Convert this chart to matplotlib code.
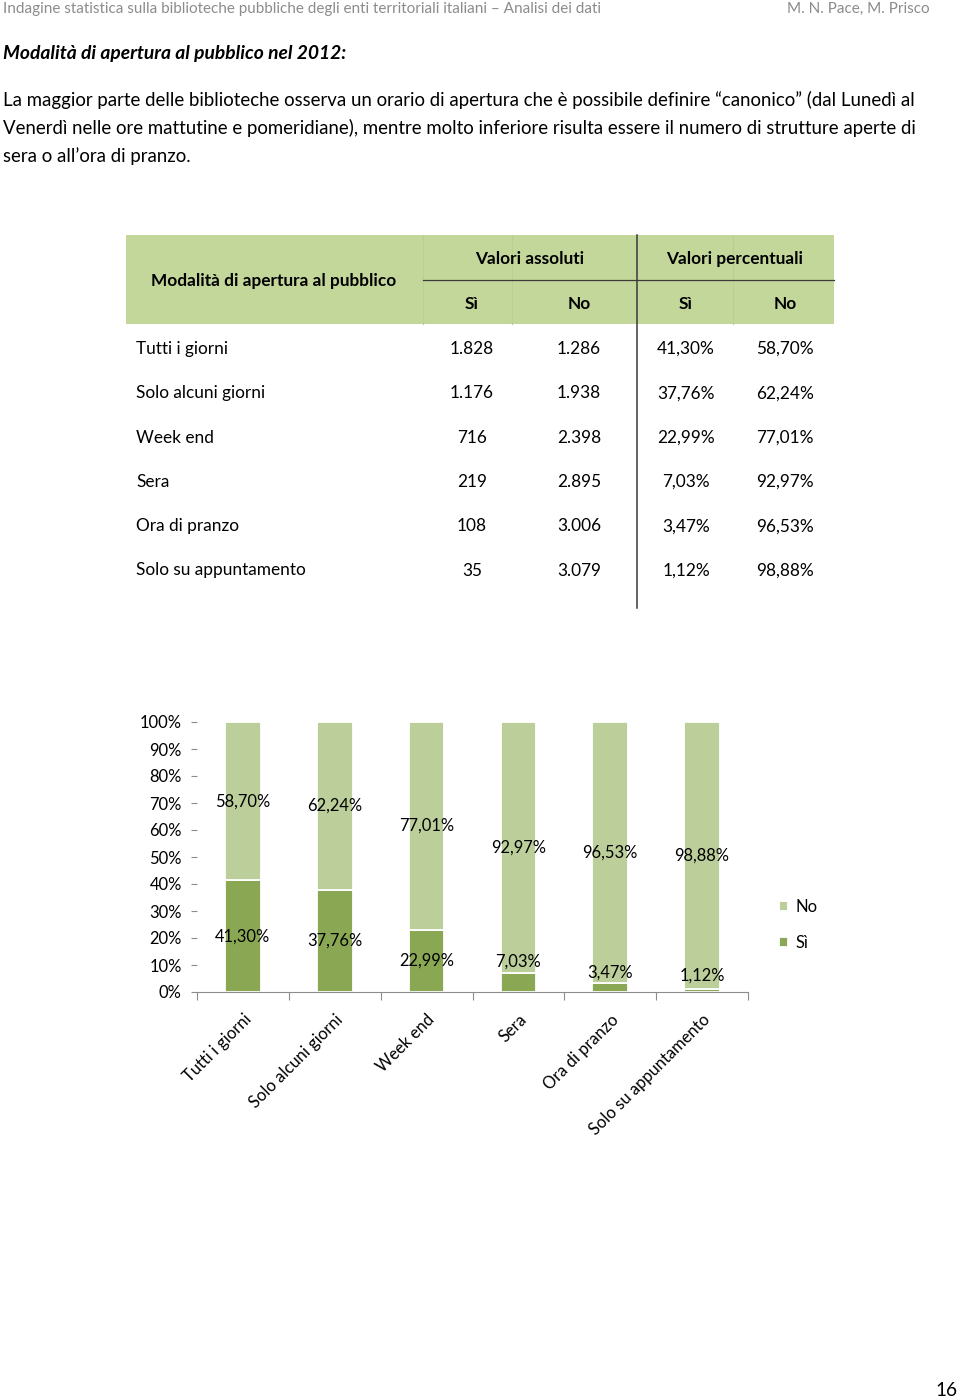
import matplotlib
matplotlib.use("Agg")
import matplotlib.pyplot as plt
from matplotlib.patches import Rectangle
from matplotlib.lines import Line2D
import numpy as np

plt.rcParams['font.family'] = ['Lato', 'DejaVu Sans']

# ---------------- data ----------------
categories = ["Tutti i giorni", "Solo alcuni giorni", "Week end", "Sera",
              "Ora di pranzo", "Solo su appuntamento"]
abs_si = ["1.828", "1.176", "716", "219", "108", "35"]
abs_no = ["1.286", "1.938", "2.398", "2.895", "3.006", "3.079"]
pct_si = [41.30, 37.76, 22.99, 7.03, 3.47, 1.12]
pct_no = [58.70, 62.24, 77.01, 92.97, 96.53, 98.88]
yticks = [0, 10, 20, 30, 40, 50, 60, 70, 80, 90, 100]

header_left = "Indagine statistica sulla biblioteche pubbliche degli enti territoriali italiani – Analisi dei dati"
header_right = "M. N. Pace, M. Prisco"
title = "Modalità di apertura al pubblico nel 2012:"
paragraph = [
    "La maggior parte delle biblioteche osserva un orario di apertura che è possibile definire “canonico” (dal Lunedì al",
    "Venerdì nelle ore mattutine e pomeridiane), mentre molto inferiore risulta essere il numero di strutture aperte di",
    "sera o all’ora di pranzo.",
]
page_number = "16"

# ---------------- layout / style ----------------
W, H = 960, 1398
DARK = "#8aa853"
LIGHT = "#bccf9a"
HEAD_BG = "#c4d79b"
fig = plt.figure(figsize=(W / 100, H / 100), dpi=100)


def fx(x):
    return x / W


def fy(y):
    return 1 - y / H


def ftext(x, y, s, **kw):
    kw.setdefault("va", "center")
    kw.setdefault("color", "black")
    fig.text(fx(x), fy(y), s, **kw)


PX = 0.72  # points per pixel

# header
ftext(3, 9, header_left, fontsize=15.2 * PX, color="#8c8c8c")
ftext(930, 9, header_right, fontsize=15.2 * PX, color="#8c8c8c", ha="right")
ftext(3, 53, title, fontsize=19.3 * PX, fontweight="bold", fontstyle="italic")
for i, line in enumerate(paragraph):
    ftext(3, 100 + 28 * i, line, fontsize=18.6 * PX)
ftext(958, 1390, page_number, fontsize=19 * PX, ha="right")

# table
fig.patches.append(Rectangle((fx(126), fy(324)), fx(834 - 126), (324 - 235) / H,
                             transform=fig.transFigure, facecolor=HEAD_BG,
                             edgecolor="none", zorder=0))
for xl in (423, 512, 733):
    fig.lines.append(Line2D([fx(xl), fx(xl)], [fy(235), fy(324)],
                            transform=fig.transFigure, color="#bad08f", lw=0.8))
fig.lines.append(Line2D([fx(423), fx(834)], [fy(280), fy(280)],
                        transform=fig.transFigure, color="#3a3a3a", lw=0.9))
fig.lines.append(Line2D([fx(637), fx(637)], [fy(235), fy(608)],
                        transform=fig.transFigure, color="#3a3a3a", lw=1.1))

TFS = 17.2 * PX
ftext(274, 281, "Modalità di apertura al pubblico", fontsize=TFS, fontweight="bold", ha="center")
ftext(530, 259, "Valori assoluti", fontsize=TFS, fontweight="bold", ha="center")
ftext(735, 259, "Valori percentuali", fontsize=TFS, fontweight="bold", ha="center")
col_x = [472, 579, 686, 785]
for cx, lab in zip(col_x, ["Sì", "No", "Sì", "No"]):
    ftext(cx, 304, lab, fontsize=TFS, fontweight="bold", ha="center")


def fmt_pct(v):
    return f"{v:.2f}".replace(".", ",") + "%"


for i, cat in enumerate(categories):
    y = 349 + 44.3 * i
    ftext(136, y, cat, fontsize=TFS)
    vals = [abs_si[i], abs_no[i], fmt_pct(pct_si[i]), fmt_pct(pct_no[i])]
    for cx, v in zip(col_x, vals):
        ftext(cx, y, v, fontsize=TFS, ha="center")

# chart
ax = fig.add_axes([fx(197), fy(992), fx(748 - 197), (992 - 722) / H])
x = np.arange(len(categories))
si = np.array(pct_si) / 100
no = np.array(pct_no) / 100
bw = 0.39
b_si = ax.bar(x, si, width=bw, color=DARK, edgecolor="white", linewidth=1.3, label="Sì")
b_no = ax.bar(x, no, width=bw, bottom=si, color=LIGHT, edgecolor="white", linewidth=1.3, label="No")

CFS = 16.5 * PX
ax.set_xlim(-0.5, len(categories) - 0.5)
ax.set_ylim(0, 1)
ax.set_yticks(np.array(yticks) / 100)
ax.set_yticklabels([f"{t}%" for t in yticks], fontsize=CFS)
ax.tick_params(axis="y", length=4, width=0.8, color="#8c8c8c", pad=7)
ax.set_xticks(x)
ax.set_xticklabels(categories, rotation=45, ha="right", rotation_mode="anchor",
                   fontsize=CFS)
ax.tick_params(axis="x", length=0, pad=14)
ax.set_xticks(np.arange(-0.5, len(categories)), minor=True)
ax.tick_params(axis="x", which="minor", length=6, width=0.8, color="#8c8c8c", direction="out")
for s in ("left", "right", "top"):
    ax.spines[s].set_visible(False)
ax.spines["bottom"].set_color("#8c8c8c")
ax.spines["bottom"].set_linewidth(0.8)

si_label_lift_px = [0, 0, 0, 21, 15, 15]
for i in range(len(categories)):
    ax.annotate(fmt_pct(pct_si[i]), (x[i], si[i] / 2), xytext=(0, si_label_lift_px[i]),
                textcoords="offset pixels", ha="center", va="center", fontsize=CFS)
    ax.annotate(fmt_pct(pct_no[i]), (x[i], si[i] + no[i] / 2), ha="center", va="center",
                fontsize=CFS)

ax.legend([b_no, b_si], ["No", "Sì"], loc="center left",
          bbox_to_anchor=(fx(764), fy(925)), bbox_transform=fig.transFigure,
          frameon=False, fontsize=CFS, handlelength=0.55, handleheight=0.55,
          handletextpad=0.45, labelspacing=1.2)

fig.savefig("out.png", dpi=100)
